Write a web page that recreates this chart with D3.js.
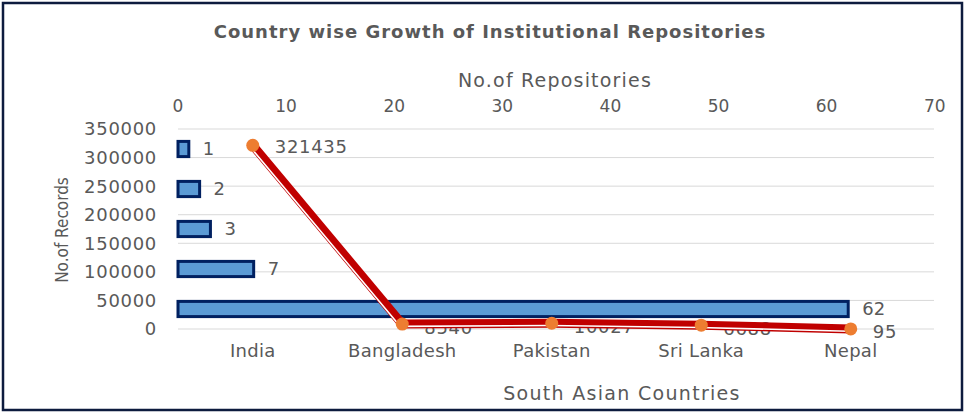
<!DOCTYPE html>
<html>
<head>
<meta charset="utf-8">
<script src="https://cdn.jsdelivr.net/npm/d3@7"></script>
<style>
  body { margin: 0; background: #fff; }
  text { font-family: "DejaVu Sans", sans-serif; fill: #595959; }
</style>
</head>
<body>
<div id="chart"></div>
<script>
// categories along the bottom (line) and up the side (bars)
const countries = ["India", "Bangladesh", "Pakistan", "Sri Lanka", "Nepal"];
const repositories = [62, 7, 3, 2, 1];          // No.of Repositories (bars)
const records = [321435, 8540, 10027, 6688, 95]; // No.of Records (line)
const recordTicks = [0, 50000, 100000, 150000, 200000, 250000, 300000, 350000];
const repoTicks = [0, 10, 20, 30, 40, 50, 60, 70];

const width = 966, height = 416;
const plot = { left: 178, right: 934, top: 129, bottom: 329 };

const svg = d3.select("#chart").append("svg")
    .attr("width", width)
    .attr("height", height);

// outer border
svg.append("rect")
    .attr("x", 3).attr("y", 3)
    .attr("width", 959).attr("height", 407)
    .attr("fill", "#fff")
    .attr("stroke", "#0d1b3e")
    .attr("stroke-width", 2.5);

// scales
let yRec = d3.scaleLinear().domain([0, 350000]).range([plot.bottom, plot.top]);
let xRepo = d3.scaleLinear().domain([0, 70]).range([plot.left, plot.left + 70 * 10.81]);
let xCat = d3.scaleBand().domain(countries).range([plot.left, plot.left + 5 * 149.5]);
let yCat = d3.scaleBand().domain(countries).range([plot.bottom, plot.top]).paddingInner(0.62).paddingOuter(0.31);

// gridlines
svg.append("g").selectAll("line")
    .data(recordTicks)
    .join("line")
    .attr("x1", plot.left).attr("x2", plot.right)
    .attr("y1", d => yRec(d)).attr("y2", d => yRec(d))
    .attr("stroke", "#d9d9d9").attr("stroke-width", 1);

// left axis labels
svg.append("g").selectAll("text")
    .data(recordTicks)
    .join("text")
    .attr("x", 157)
    .attr("y", d => yRec(d))
    .attr("dy", "0.36em")
    .attr("text-anchor", "end")
    .style("font-size", "18px")
    .style("letter-spacing", "0.7px")
    .text(d => d);

// top axis labels
svg.append("g").selectAll("text")
    .data(repoTicks)
    .join("text")
    .attr("x", d => xRepo(d))
    .attr("y", 106)
    .attr("dy", "0.36em")
    .attr("text-anchor", "middle")
    .style("font-size", "17px")
    .text(d => d);

// bottom category labels
svg.append("g").selectAll("text")
    .data(countries)
    .join("text")
    .attr("x", d => xCat(d) + xCat.bandwidth() / 2)
    .attr("y", 351)
    .attr("dy", "0.36em")
    .attr("text-anchor", "middle")
    .style("font-size", "18px")
    .style("letter-spacing", "0.3px")
    .text(d => d);

// bars
svg.append("g").selectAll("rect")
    .data(countries)
    .join("rect")
    .attr("x", xRepo(0))
    .attr("y", d => yCat(d))
    .attr("width", (d, i) => xRepo(repositories[i]) - xRepo(0))
    .attr("height", yCat.bandwidth())
    .attr("fill", "#5b9bd5")
    .attr("stroke", "#002060")
    .attr("stroke-width", 3);

svg.append("g").selectAll("text")
    .data(countries)
    .join("text")
    .attr("x", (d, i) => xRepo(repositories[i]) + 14)
    .attr("y", d => yCat(d) + yCat.bandwidth() / 2)
    .attr("dy", "0.36em")
    .style("font-size", "18px")
    .text((d, i) => repositories[i]);

// line labels (drawn under the line)
let pts = countries.map((c, i) => [xCat(c) + xCat.bandwidth() / 2, yRec(records[i])]);

svg.append("g").selectAll("text")
    .data(pts)
    .join("text")
    .attr("x", d => d[0] + 22)
    .attr("y", (d, i) => d[1] + (i === 0 ? 1 : 3))
    .attr("dy", "0.36em")
    .style("font-size", "18px")
    .style("letter-spacing", "0.7px")
    .text((d, i) => records[i]);

// line: thick red with a thin white stripe
let line = d3.line();
svg.append("path")
    .attr("d", line(pts))
    .attr("fill", "none")
    .attr("stroke", "#c00000")
    .attr("stroke-width", 9)
    .attr("stroke-linejoin", "round");

svg.append("path")
    .attr("d", line(pts))
    .attr("fill", "none")
    .attr("stroke", "#fff")
    .attr("stroke-width", 1.6)
    .attr("transform", "translate(-2,2.3)");

svg.append("g").selectAll("circle")
    .data(pts)
    .join("circle")
    .attr("cx", d => d[0])
    .attr("cy", d => d[1])
    .attr("r", 6.5)
    .attr("fill", "#ed7d31");

// titles
svg.append("text")
    .attr("x", 490).attr("y", 32)
    .attr("dy", "0.36em")
    .attr("text-anchor", "middle")
    .style("font-size", "18px")
    .style("font-weight", "bold")
    .style("letter-spacing", "1px")
    .text("Country wise Growth of Institutional Repositories");

svg.append("text")
    .attr("x", 555).attr("y", 80)
    .attr("dy", "0.36em")
    .attr("text-anchor", "middle")
    .style("font-size", "19px")
    .style("letter-spacing", "1.2px")
    .text("No.of Repositories");

svg.append("text")
    .attr("x", 622).attr("y", 393)
    .attr("dy", "0.36em")
    .attr("text-anchor", "middle")
    .style("font-size", "19px")
    .style("letter-spacing", "1.3px")
    .text("South Asian Countries");

svg.append("text")
    .attr("transform", "translate(62,230) rotate(-90)")
    .attr("dy", "0.36em")
    .attr("text-anchor", "middle")
    .style("font-family", "'Liberation Sans Narrow', 'DejaVu Sans Condensed', sans-serif")
    .style("font-size", "17px")
    .text("No.of Records");
</script>
</body>
</html>
